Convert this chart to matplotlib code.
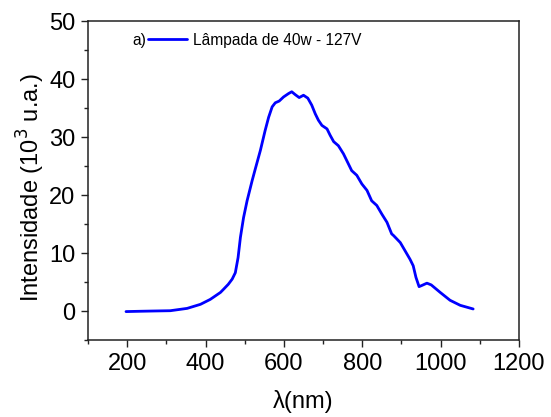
import matplotlib
matplotlib.use("Agg")
import matplotlib.pyplot as plt
from matplotlib.ticker import MultipleLocator

plt.rcParams['font.family'] = ['Liberation Sans', 'DejaVu Sans']

wavelength = [197, 230, 268, 310, 353, 387, 412, 438, 446, 458, 468, 476, 483, 489,
              497, 506, 519, 527, 540, 552, 561, 570, 578, 588, 599, 612, 620, 629,
              639, 650, 661, 671, 680, 688, 697, 710, 718, 727, 739, 752, 773, 786,
              799, 812, 824, 837, 850, 863, 875, 880, 897, 922, 930, 937, 945, 952,
              965, 976, 999, 1024, 1050, 1083]
intensity = [-0.1, -0.05, 0.0, 0.05, 0.45, 1.15, 2.0, 3.2, 3.75, 4.6, 5.5, 6.6, 9.2, 12.7,
             16.1, 19.0, 22.5, 24.5, 27.7, 31.1, 33.4, 35.2, 35.9, 36.2, 36.9, 37.5, 37.8, 37.3,
             36.8, 37.2, 36.7, 35.5, 34.0, 32.9, 32.0, 31.4, 30.3, 29.2, 28.5, 27.1, 24.2, 23.4,
             21.9, 20.8, 19.0, 18.2, 16.7, 15.3, 13.3, 13.0, 11.8, 8.9, 7.8, 5.8, 4.2, 4.4,
             4.8, 4.5, 3.2, 1.85, 0.98, 0.35]
series_label = "Lâmpada de 40w - 127V"
panel_label = "a)"

W, H = 551, 417
fig = plt.figure(figsize=(W / 100, H / 100), dpi=100)
L, R, T, B = 88, 519, 21, 340
ax = fig.add_axes([L / W, (H - B) / H, (R - L) / W, (B - T) / H])

ax.plot(wavelength, intensity, color='#0000FF', lw=2.0, label=series_label,
        solid_joinstyle='round', solid_capstyle='round')

ax.set_xlim(100, 1200)
ax.set_ylim(-5, 50)
ax.xaxis.set_major_locator(MultipleLocator(200))
ax.xaxis.set_minor_locator(MultipleLocator(100))
ax.yaxis.set_major_locator(MultipleLocator(10))
ax.yaxis.set_minor_locator(MultipleLocator(5))
ax.tick_params(which='both', direction='out', top=False, right=False,
               labelsize=17, width=1, color='#222222')
ax.tick_params(which='major', length=5, pad=4)
ax.tick_params(which='minor', length=3)
for s in ax.spines.values():
    s.set_linewidth(1.1)
    s.set_color('#222222')

ax.set_xlabel("λ(nm)", fontsize=17, labelpad=11)
ax.set_ylabel("Intensidade (10$^{3}$ u.a.)", fontsize=17)
ax.yaxis.set_label_coords(-(L - 31) / (R - L), 0.478)
ax.yaxis.label.set_va('center')

# legend without frame, with panel label
lx = (148 - L) / (R - L)
ly = (B - 40) / (B - T)
ax.text(lx - 2 / (R - L), ly, panel_label, transform=ax.transAxes, ha='right',
        va='center', fontsize=11.2)
ax.legend(loc='center left', bbox_to_anchor=(lx, ly), frameon=False, fontsize=11.2,
          borderpad=0, borderaxespad=0, handlelength=2.5, handletextpad=0.4)

fig.savefig("out.png", dpi=100)
